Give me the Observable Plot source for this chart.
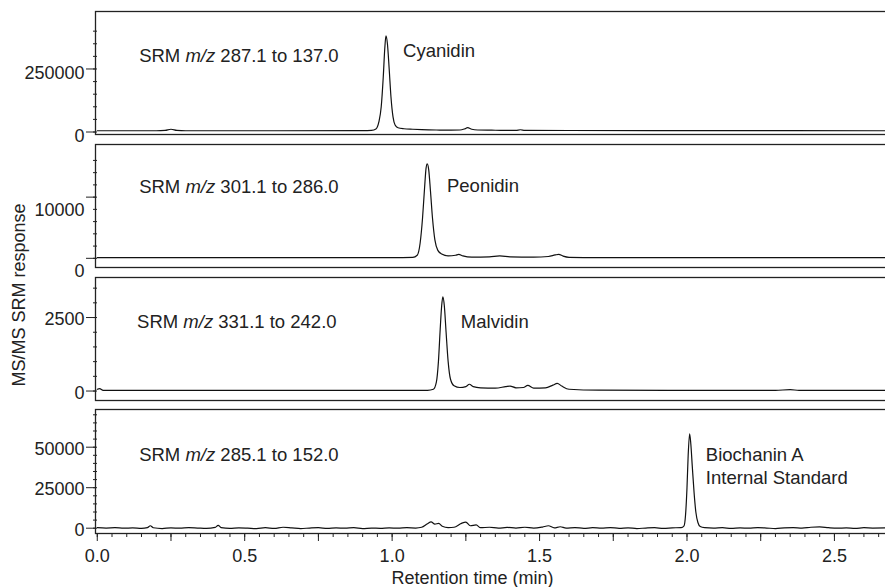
<!DOCTYPE html>
<html>
<head>
<meta charset="utf-8">
<script src="https://cdn.jsdelivr.net/npm/d3@7"></script>
<script src="https://cdn.jsdelivr.net/npm/@observablehq/plot@0.6"></script>
<style>
html, body { margin: 0; padding: 0; background: #fff; overflow: hidden; }
#wrap { position: relative; width: 885px; height: 587px; overflow: hidden; }
#wrap svg { display: block; }
#ytitle { position: absolute; left: 19px; top: 295px; transform: translate(-50%, -50%) rotate(-90deg);
  font: 18px "Liberation Sans", Arial, Helvetica, sans-serif; white-space: nowrap; color: #222; }
</style>
</head>
<body>
<div id="wrap"><div id="ytitle">MS/MS SRM response</div></div>
<script>
// ---------- data ----------
const yTitle = "MS/MS SRM response";
const xTitle = "Retention time (min)";
const xMajorTicks = [0, 0.5, 1.0, 1.5, 2.0, 2.5];
const xQuarterTicks = [0.25, 0.75, 1.25, 1.75, 2.25];

// Cyanidin  SRM m/z 287.1 -> 137.0
const cyanidinT = [0, 0.20, 0.23, 0.25, 0.27, 0.30, 0.60, 0.90, 0.93, 0.945, 0.955, 0.963, 0.970, 0.975, 0.979, 0.984, 0.990, 0.996, 1.003, 1.010, 1.020, 1.040, 1.07, 1.10, 1.15, 1.20, 1.23, 1.245, 1.256, 1.27, 1.29, 1.35, 1.42, 1.435, 1.45, 1.60, 2.00, 2.68];
const cyanidinV = [5000, 5000, 6500, 11000, 6500, 5000, 5000, 5200, 6500, 12000, 40000, 100000, 220000, 330000, 381000, 350000, 250000, 140000, 60000, 28000, 17000, 13000, 11000, 9500, 8000, 7500, 8000, 12000, 17000, 11000, 8000, 7000, 6500, 9000, 6500, 6000, 5500, 5000];

// Peonidin  SRM m/z 301.1 -> 286.0
const peonidinT = [0, 1.00, 1.07, 1.085, 1.095, 1.103, 1.110, 1.115, 1.119, 1.124, 1.130, 1.137, 1.145, 1.155, 1.168, 1.19, 1.215, 1.226, 1.24, 1.27, 1.33, 1.365, 1.40, 1.48, 1.53, 1.553, 1.565, 1.58, 1.60, 1.70, 2.68];
const peonidinV = [100, 100, 150, 500, 2500, 6500, 11500, 14700, 15450, 14500, 11000, 6500, 3000, 1300, 700, 400, 500, 650, 400, 200, 250, 400, 250, 200, 300, 550, 650, 350, 150, 100, 100];

// Malvidin  SRM m/z 331.1 -> 242.0
const malvidinT = [0, 0.008, 0.02, 0.50, 1.00, 1.12, 1.14, 1.150, 1.157, 1.163, 1.168, 1.172, 1.177, 1.183, 1.19, 1.198, 1.21, 1.23, 1.25, 1.262, 1.275, 1.30, 1.35, 1.385, 1.40, 1.42, 1.445, 1.46, 1.48, 1.52, 1.545, 1.56, 1.575, 1.60, 1.70, 2.30, 2.35, 2.38, 2.68];
const malvidinV = [60, 80, 20, 20, 20, 25, 60, 300, 1000, 2100, 2900, 3200, 2900, 2000, 1000, 400, 180, 120, 150, 230, 150, 110, 100, 150, 170, 110, 120, 190, 100, 110, 200, 260, 170, 60, 30, 20, 50, 20, 20];

// Biochanin A (internal standard)  SRM m/z 285.1 -> 152.0
const biochaninT = [0, 0.03, 0.06, 0.09, 0.12, 0.15, 0.17, 0.18, 0.19, 0.22, 0.25, 0.28, 0.31, 0.34, 0.37, 0.40, 0.41, 0.42, 0.45, 0.48, 0.51, 0.54, 0.57, 0.60, 0.63, 0.66, 0.69, 0.72, 0.75, 0.78, 0.81, 0.84, 0.87, 0.90, 0.93, 0.96, 0.99, 1.02, 1.05, 1.08, 1.10, 1.12, 1.132, 1.145, 1.158, 1.17, 1.19, 1.21, 1.235, 1.25, 1.265, 1.285, 1.30, 1.33, 1.36, 1.39, 1.42, 1.45, 1.48, 1.51, 1.53, 1.55, 1.57, 1.59, 1.62, 1.65, 1.68, 1.71, 1.74, 1.77, 1.80, 1.83, 1.86, 1.89, 1.92, 1.95, 1.98, 1.99, 1.995, 2.000, 2.004, 2.009, 2.013, 2.018, 2.024, 2.030, 2.037, 2.045, 2.06, 2.09, 2.12, 2.15, 2.18, 2.21, 2.24, 2.27, 2.30, 2.33, 2.36, 2.39, 2.42, 2.45, 2.48, 2.51, 2.54, 2.57, 2.60, 2.63, 2.68];
const biochaninV = [300, 100, 300, 0, 200, -100, 400, 1500, 300, -200, 200, 0, 300, 100, -100, 500, 1800, 400, -100, 200, 0, -300, 300, -100, 600, 200, -200, 100, 300, -100, 200, 0, 300, -200, 100, -100, 200, 0, 300, 100, 600, 2800, 3900, 2500, 3000, 1200, 400, 600, 3000, 3700, 1500, 2000, 300, 600, 0, 500, 100, 600, 0, 700, 1500, 200, 900, 100, 400, -100, 300, 0, 400, -100, 200, -200, 100, 300, -100, 200, 400, 1500, 8000, 25000, 45000, 58300, 52000, 38000, 22000, 10000, 3500, 1000, 300, 0, 300, -100, 200, 0, 300, 100, -200, 200, 400, 100, 600, 800, 300, 0, 200, -100, 300, 100, 200];

// y ticks per panel
const yMajor1 = [0, 250000], yMinor1 = [0, 50000, 100000, 150000, 200000, 250000, 300000, 350000, 400000];
const yMajor2 = [0, 10000], yMinor2 = [0, 2000, 4000, 6000, 8000, 10000, 12000, 14000, 16000];
const yMajor3 = [0, 2500], yMinor3 = [0, 500, 1000, 1500, 2000, 2500, 3000, 3500];
const yMajor4 = [0, 25000, 50000], yMinor4 = [0, 5000, 10000, 15000, 20000, 25000, 30000, 35000, 40000, 45000, 50000, 55000, 60000, 65000, 70000];

// annotations: [text, t, value]
const labels1 = [["SRM m/z 287.1 to 137.0", 0.142, 301600], ["Cyanidin", 1.037, 321000]];
const labels2 = [["SRM m/z 301.1 to 286.0", 0.142, 11570], ["Peonidin", 1.186, 11740]];
const labels3 = [["SRM m/z 331.1 to 242.0", 0.135, 2356], ["Malvidin", 1.233, 2356]];
const labels4 = [["SRM m/z 285.1 to 152.0", 0.142, 44860], ["Biochanin A", 2.064, 44860], ["Internal Standard", 2.064, 30660]];

// ---------- drawing ----------
const FONT = '"Liberation Sans", Arial, Helvetica, sans-serif';
const INK = "#222";
const xDomain = [-0.006, 2.680];
const W = 890, ML = 95, MR = 3;

const panels = [
  {t: cyanidinT, v: cyanidinV, major: yMajor1, minor: yMinor1, labels: labels1, domain: [-9900, 478000], mt: 11, mb: 5, h: 139, ldy: 4},
  {t: peonidinT, v: peonidinV, major: yMajor2, minor: yMinor2, labels: labels2, domain: [-1500, 18600], mt: 5, mb: 4, h: 132, ldy: 13},
  {t: malvidinT, v: malvidinV, major: yMajor3, minor: yMinor3, labels: labels3, domain: [-322, 3862], mt: 6, mb: 4, h: 133, ldy: 2},
  {t: biochaninT, v: biochaninV, major: yMajor4, minor: yMinor4, labels: labels4, domain: [-3270, 73270], mt: 5, mb: 54, h: 183, ldy: 2, xaxis: true}
];

const wrap = document.getElementById("wrap");

panels.forEach((p) => {
  const data = p.t.map((t, i) => ({t, v: p.v[i]}));
  const lab = p.labels.map(([text, t, v]) => ({text, t, v}));
  const marks = [
    Plot.axisY({ticks: p.minor, tickSize: 4, dx: 2, tickFormat: () => "", label: null, stroke: INK}),
    Plot.axisY({ticks: p.major, tickSize: 9, tickFormat: () => "", label: null, stroke: INK}),
    Plot.axisY({ticks: p.major, tickSize: 0, tickPadding: 11, dy: p.ldy, label: null, tickFormat: d => String(d), fill: INK}),
    Plot.line(data, {x: "t", y: "v", curve: "monotone-x", stroke: "#111", strokeWidth: 1.2, clip: true}),
    Plot.text(lab, {x: "t", y: "v", text: "text", textAnchor: "start", lineAnchor: "middle", fill: INK, fontSize: 18.5}),
    Plot.frame({stroke: INK, strokeWidth: 1.3})
  ];
  if (p.xaxis) {
    marks.push(
      Plot.axisX({ticks: d3.range(0, 54).map(i => i / 20), tickSize: 4, tickFormat: () => "", label: null, stroke: INK}),
      Plot.axisX({ticks: xQuarterTicks, tickSize: 8, tickFormat: () => "", label: null, stroke: INK}),
      Plot.axisX({ticks: xMajorTicks, tickSize: 8, tickPadding: 8, tickFormat: d3.format(".1f"), label: null, stroke: INK, fill: INK}),
      Plot.text([xTitle], {frameAnchor: "bottom", dx: -19, dy: 45, lineAnchor: "middle", fill: INK, fontSize: 18})
    );
  }
  const svg = Plot.plot({
    width: W, height: p.h,
    marginLeft: ML, marginRight: MR, marginTop: p.mt, marginBottom: p.mb,
    x: {domain: xDomain, axis: p.xaxis ? undefined : null},
    y: {domain: p.domain},
    style: {fontFamily: FONT, fontSize: "18px", color: INK, background: "transparent", overflow: "visible", maxWidth: "none"},
    marks
  });
  wrap.appendChild(svg);
});

// italicise "m/z" inside the SRM annotations (kept as real text)
d3.selectAll("#wrap svg text").filter(function () {
  return this.textContent.includes("m/z") && this.children.length === 0;
}).each(function () {
  const full = this.textContent;
  const [a, b] = full.split("m/z");
  const sel = d3.select(this);
  sel.text(null);
  sel.append("tspan").text(a);
  sel.append("tspan").attr("font-style", "italic").text("m/z");
  sel.append("tspan").text(b);
});
</script>
</body>
</html>
